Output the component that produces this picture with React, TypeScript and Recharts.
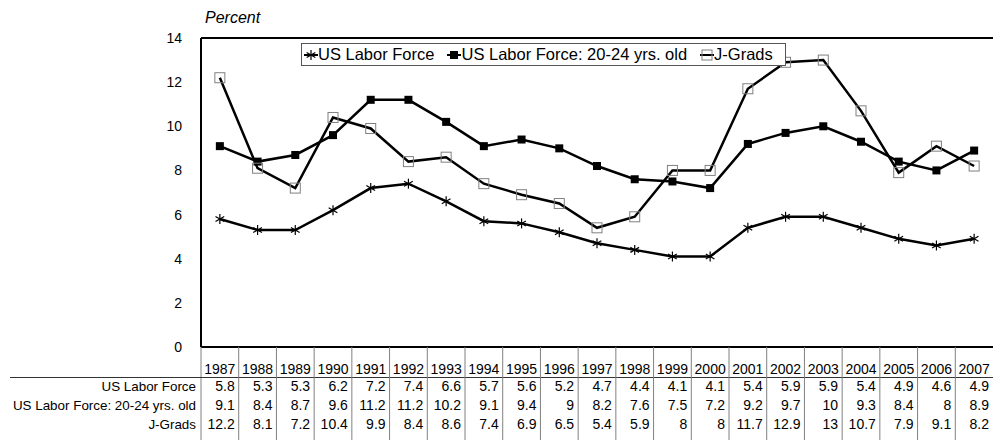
import React from "react";
import {
  LineChart,
  Line,
  XAxis,
  YAxis,
  ReferenceLine,
} from "recharts";

const years = [
  1987, 1988, 1989, 1990, 1991, 1992, 1993, 1994, 1995, 1996, 1997, 1998,
  1999, 2000, 2001, 2002, 2003, 2004, 2005, 2006, 2007,
];
const usLaborForce = [
  5.8, 5.3, 5.3, 6.2, 7.2, 7.4, 6.6, 5.7, 5.6, 5.2, 4.7, 4.4, 4.1, 4.1, 5.4,
  5.9, 5.9, 5.4, 4.9, 4.6, 4.9,
];
const usLaborForce2024 = [
  9.1, 8.4, 8.7, 9.6, 11.2, 11.2, 10.2, 9.1, 9.4, 9, 8.2, 7.6, 7.5, 7.2, 9.2,
  9.7, 10, 9.3, 8.4, 8, 8.9,
];
const jGrads = [
  12.2, 8.1, 7.2, 10.4, 9.9, 8.4, 8.6, 7.4, 6.9, 6.5, 5.4, 5.9, 8, 8, 11.7,
  12.9, 13, 10.7, 7.9, 9.1, 8.2,
];
const yTicks = [0, 2, 4, 6, 8, 10, 12, 14];

const seriesNames = [
  "US Labor Force",
  "US Labor Force: 20-24 yrs. old",
  "J-Grads",
];
const seriesKeys = ["lf", "lf2024", "jg"];
const seriesValues = [usLaborForce, usLaborForce2024, jGrads];

const data = years.map((year, i) => ({
  year,
  lf: usLaborForce[i],
  lf2024: usLaborForce2024[i],
  jg: jGrads[i],
}));

const FONT = '"Liberation Sans", Arial, Helvetica, sans-serif';
const CHART_W = 993;
const CHART_H = 440;
const Y_AXIS_W = 201;
const TABLE_H = 93;
const COL_W = (CHART_W - Y_AXIS_W) / years.length;

// markers
function StarMark({ cx, cy, r = 5 }: any) {
  if (cx == null || cy == null) return null;
  const d = r * 0.87;
  return (
    <g stroke="#000" strokeWidth={1.2} fill="none">
      <line x1={cx} y1={cy - r} x2={cx} y2={cy + r} />
      <line x1={cx - d} y1={cy - r / 2} x2={cx + d} y2={cy + r / 2} />
      <line x1={cx - d} y1={cy + r / 2} x2={cx + d} y2={cy - r / 2} />
    </g>
  );
}

function FilledSquare({ cx, cy, s = 4 }: any) {
  if (cx == null || cy == null) return null;
  return <rect x={cx - s} y={cy - s} width={s * 2} height={s * 2} fill="#000" />;
}

function HollowSquare({ cx, cy, s = 5 }: any) {
  if (cx == null || cy == null) return null;
  return (
    <rect
      x={cx - s}
      y={cy - s}
      width={s * 2}
      height={s * 2}
      fill="none"
      stroke="#808080"
      strokeWidth={1}
    />
  );
}

const markers = [StarMark, FilledSquare, HollowSquare];

// data table drawn under the plot, one column per x tick
function TableTick(props: any) {
  const { x, y, payload, index } = props;
  const half = COL_W / 2;
  const rowY = [y + 44, y + 63, y + 82];
  return (
    <g fontFamily={FONT}>
      <line x1={x - half} y1={y} x2={x - half} y2={CHART_H} stroke="#808080" />
      <text x={x} y={y + 27} textAnchor="middle" fontSize={14} fill="#000">
        {payload.value}
      </text>
      {seriesValues.map((vals, r) => (
        <text
          key={r}
          x={x + half - 4}
          y={rowY[r]}
          textAnchor="end"
          fontSize={14}
          fill="#000"
        >
          {vals[index]}
        </text>
      ))}
      {index === 0 && (
        <g>
          <line x1={10} y1={y + 30.5} x2={CHART_W} y2={y + 30.5} stroke="#333" />
          {seriesNames.map((name, r) => (
            <text
              key={name}
              x={x - half - 5}
              y={rowY[r]}
              textAnchor="end"
              fontSize={13.4}
              fill="#000"
            >
              {name}
            </text>
          ))}
        </g>
      )}
    </g>
  );
}

function LegendIcon({ idx }: { idx: number }) {
  const Marker = markers[idx];
  return (
    <svg width={14} height={14} style={{ display: "block" }}>
      <line x1={0} y1={7} x2={14} y2={7} stroke="#000" strokeWidth={2} />
      <Marker cx={7} cy={7} r={5} s={idx === 1 ? 4 : 5} />
    </svg>
  );
}

export default function App() {
  return (
    <div
      style={{
        position: "absolute",
        left: 0,
        top: 0,
        width: CHART_W,
        height: CHART_H,
        background: "#fff",
        fontFamily: FONT,
      }}
    >
      <LineChart
        width={CHART_W}
        height={CHART_H}
        data={data}
        margin={{ top: 38, right: 0, bottom: 0, left: 0 }}
      >
        <XAxis
          dataKey="year"
          type="number"
          domain={[years[0] - 0.5, years[years.length - 1] + 0.5]}
          ticks={years}
          interval={0}
          height={TABLE_H}
          tickLine={false}
          tickSize={0}
          tickMargin={0}
          axisLine={{ stroke: "#000", strokeWidth: 2 }}
          tick={<TableTick />}
        />
        <YAxis
          domain={[0, 14]}
          ticks={yTicks}
          width={Y_AXIS_W}
          tickLine={false}
          tickSize={0}
          tickMargin={19}
          axisLine={{ stroke: "#000", strokeWidth: 2 }}
          tick={{ fill: "#000", fontSize: 14, fontFamily: FONT }}
        />
        <ReferenceLine y={14} stroke="#000" strokeWidth={2} />
        {seriesKeys.map((key, i) => {
          const Marker = markers[i];
          return (
            <Line
              key={key}
              dataKey={key}
              name={seriesNames[i]}
              type="linear"
              stroke="#000"
              strokeWidth={2.5}
              dot={(p: any) => <Marker key={`${key}-${p.index}`} cx={p.cx} cy={p.cy} />}
              activeDot={false}
              isAnimationActive={false}
            />
          );
        })}
      </LineChart>

      <div
        style={{
          position: "absolute",
          left: 205,
          top: 9,
          fontSize: 16,
          fontStyle: "italic",
          color: "#000",
        }}
      >
        Percent
      </div>

      <div
        style={{
          position: "absolute",
          left: 301,
          top: 43,
          width: 485,
          height: 23,
          boxSizing: "border-box",
          border: "1px solid #555",
          background: "#fff",
          display: "flex",
          alignItems: "center",
          paddingLeft: 2,
          fontSize: 16.5,
          color: "#000",
        }}
      >
        {seriesNames.map((name, i) => (
          <div
            key={name}
            style={{
              display: "flex",
              alignItems: "center",
              marginRight: 13,
              whiteSpace: "nowrap",
            }}
          >
            <LegendIcon idx={i} />
            <span style={{ marginLeft: 0 }}>{name}</span>
          </div>
        ))}
      </div>
    </div>
  );
}
